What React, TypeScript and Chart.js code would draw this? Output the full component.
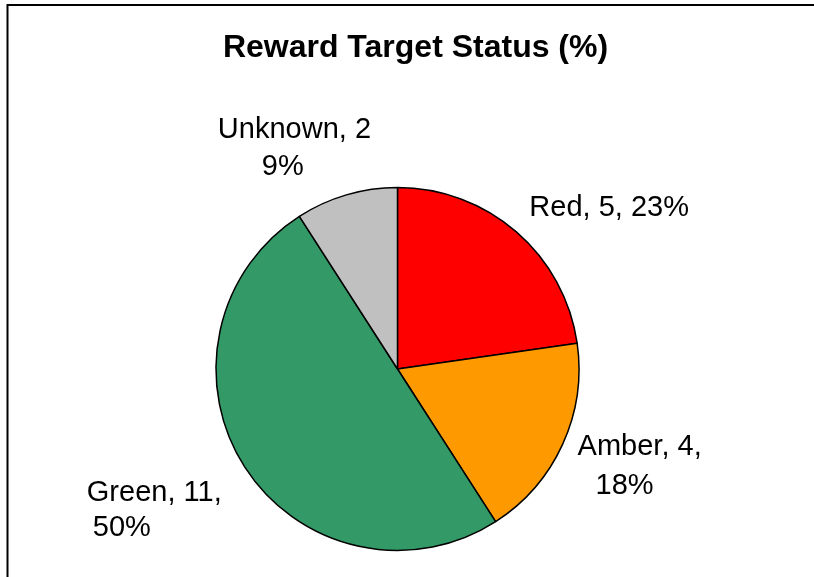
import React, { useEffect, useRef } from "react";
import { Chart, registerables } from "chart.js";

Chart.register(...registerables);

const categories = ["Red", "Amber", "Green", "Unknown"];
const counts = [5, 4, 11, 2];
const percentLabels = ["23%", "18%", "50%", "9%"];
const sliceColors = ["#FF0000", "#FF9900", "#339966", "#C0C0C0"];
const titleText = "Reward Target Status (%)";

// label lines per slice (text only)
const labelLines = [
  [`${categories[0]}, ${counts[0]}, ${percentLabels[0]}`],
  [`${categories[1]}, ${counts[1]},`, percentLabels[1]],
  [`${categories[2]}, ${counts[2]},`, percentLabels[2]],
  [`${categories[3]}, ${counts[3]}`, percentLabels[3]],
];

// per-line offsets (left x, baseline) relative to the slice's outer-edge midpoint
const lineOffsets = [
  [[13, -16]],
  [[15, 11], [33, 50]],
  [[-158, 34], [-152, 69]],
  [[-128.5, -57], [-84.5, -20]],
];

const FONT = '"Liberation Sans", Arial, sans-serif';

const decorPlugin = {
  id: "decor",
  beforeDraw(chart: any) {
    const ctx = chart.ctx;
    ctx.save();
    ctx.fillStyle = "#FFFFFF";
    ctx.fillRect(0, 0, chart.width, chart.height);
    ctx.strokeStyle = "#000000";
    ctx.lineWidth = 2;
    ctx.beginPath();
    ctx.moveTo(7.5, chart.height);
    ctx.lineTo(7.5, 5);
    ctx.lineTo(chart.width, 5);
    ctx.stroke();
    ctx.fillStyle = "#000000";
    ctx.font = `bold 32px ${FONT}`;
    ctx.textAlign = "center";
    ctx.textBaseline = "alphabetic";
    ctx.fillText(titleText, 415.5, 57);
    ctx.restore();
  },
  afterDatasetsDraw(chart: any) {
    const ctx = chart.ctx;
    const meta = chart.getDatasetMeta(0);
    ctx.save();
    ctx.fillStyle = "#000000";
    ctx.font = `29px ${FONT}`;
    ctx.textAlign = "left";
    ctx.textBaseline = "alphabetic";
    meta.data.forEach((arc: any, i: number) => {
      const { x, y, startAngle, endAngle, outerRadius } = arc.getProps(
        ["x", "y", "startAngle", "endAngle", "outerRadius"],
        true
      );
      const mid = (startAngle + endAngle) / 2;
      const ax = x + Math.cos(mid) * outerRadius;
      const ay = y + Math.sin(mid) * outerRadius;
      labelLines[i].forEach((line, j) => {
        const [dx, dy] = lineOffsets[i][j];
        ctx.fillText(line, ax + dx, ay + dy);
      });
    });
    ctx.restore();
  },
};

export default function App() {
  const canvasRef = useRef<HTMLCanvasElement | null>(null);

  useEffect(() => {
    document.body.style.margin = "0";
    const canvas = canvasRef.current;
    if (!canvas) return;
    const chart = new Chart(canvas, {
      type: "pie",
      data: {
        labels: categories,
        datasets: [
          {
            data: counts,
            backgroundColor: sliceColors,
            borderColor: "#000000",
            borderWidth: 1.5,
          },
        ],
      },
      options: {
        responsive: false,
        animation: false,
        layout: {
          padding: { left: 215.25, right: 234.25, top: 186.75, bottom: 25.75 },
        },
        plugins: {
          legend: { display: false },
          tooltip: { enabled: false },
          title: { display: false },
        },
      },
      plugins: [decorPlugin],
    });
    return () => chart.destroy();
  }, []);

  return (
    <div style={{ width: 814, height: 577 }}>
      <canvas ref={canvasRef} width={814} height={577} />
    </div>
  );
}
